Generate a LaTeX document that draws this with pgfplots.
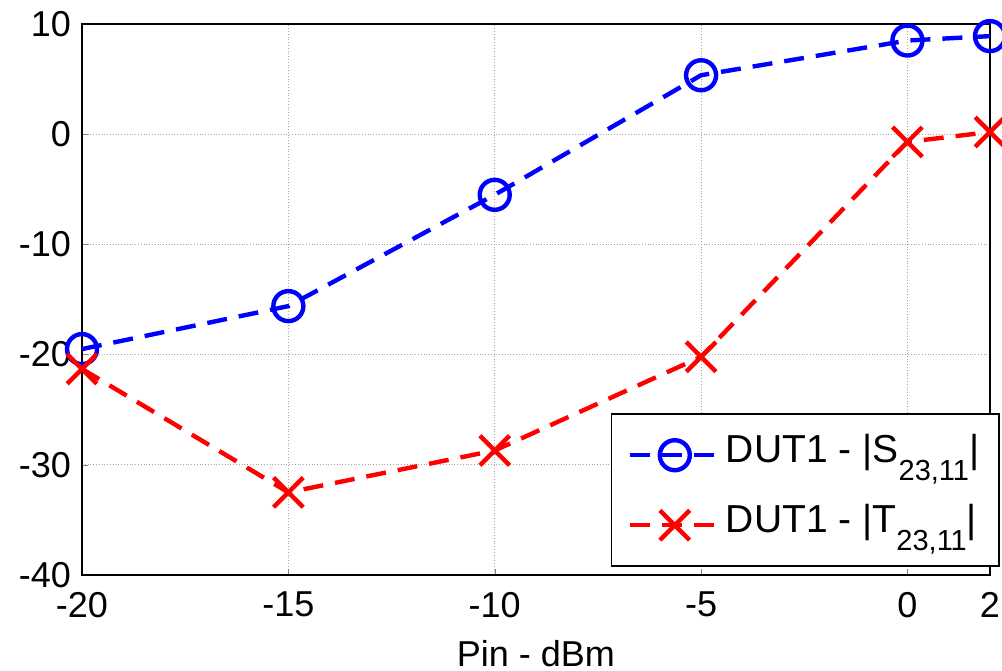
\documentclass[border=0pt]{standalone}
\usepackage{fontspec}
\setmainfont{Liberation Sans}
\usepackage{pgfplots}
\pgfplotsset{compat=1.18}
\newcommand\sub[1]{\raisebox{-9pt}{\fontsize{14.5}{15}\selectfont #1}}

\begin{document}
\begin{tikzpicture}
  \begin{axis}[
      scale only axis,
      width=454pt, height=275.5pt,
      xmin=-20, xmax=2,
      ymin=-40, ymax=10,
      xtick={-20,-15,-10,-5,0,2},
      xticklabels={-20,-15,-10,-5,0,2},
      ytick={-40,-30,-20,-10,0,10},
      yticklabels={-40,-30,-20,-10,0,10},
      tick align=inside,
      tick pos=left,
      major tick length=3pt,
      axis line style={line width=1pt},
      grid=major,
      major grid style={densely dotted, gray!70, line width=0.5pt},
      ticklabel style={font=\fontsize{18}{20}\selectfont},
      yticklabel style={xshift=-2pt},
      xticklabel style={yshift=-5pt},
      xlabel={Pin - dBm},
      xlabel style={font=\fontsize{18}{20}\selectfont, yshift=-4.5pt},
      legend cell align=left,
      legend style={
        at={(1.011,0.0145)}, anchor=south east,
        font=\fontsize{19.5}{21}\selectfont,
        draw=black, line width=0.8pt,
        row sep=4pt, inner xsep=8pt, inner ysep=5pt,
        nodes={inner ysep=2pt, text height=17pt, text depth=10pt},
      },
      legend image code/.code={
        \draw[#1, mark repeat=2, mark phase=2]
          plot coordinates {(0pt,0pt) (22.5pt,0pt) (45pt,0pt)};
      },
      clip=false,
    ]
    \addplot[color=blue, line width=2.2pt, dash pattern=on 10pt off 6pt,
             mark=o, mark size=7.5pt, mark options={solid, line width=2.2pt}]
      coordinates {(-20,-19.5) (-15,-15.6) (-10,-5.5) (-5,5.35) (0,8.5) (2,8.9)};
    \addlegendentry{DUT1 - |S\sub{23,11}|}
    \addplot[color=red, line width=2.2pt, dash pattern=on 10pt off 6pt,
             mark=x, mark size=10.5pt, mark options={solid, line width=2.2pt}]
      coordinates {(-20,-21.3) (-15,-32.5) (-10,-28.7) (-5,-20.2) (0,-0.7) (2,0.2)};
    \addlegendentry{DUT1 - |T\sub{23,11}|}
  \end{axis}
  \pgfresetboundingbox
  \path (current axis.south west) ++(-41pt,-47.5pt) rectangle ++(501pt,335pt);
\end{tikzpicture}
\end{document}
